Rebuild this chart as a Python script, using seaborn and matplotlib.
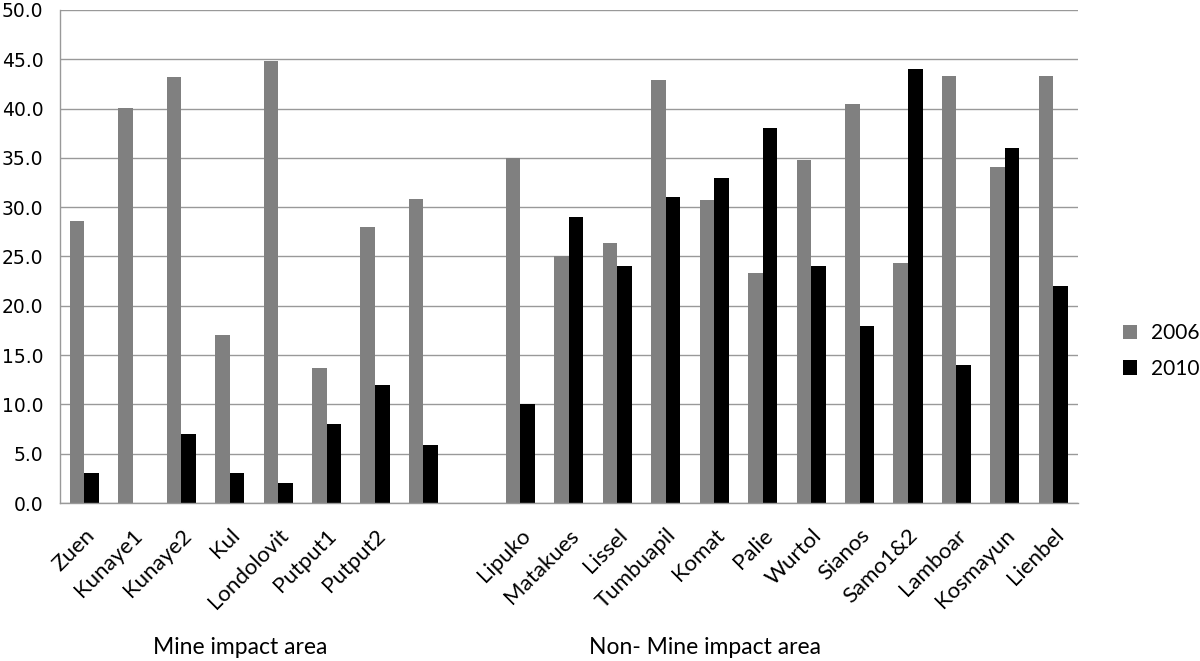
import numpy as np
import pandas as pd
import matplotlib
matplotlib.use("Agg")
import matplotlib.pyplot as plt
import seaborn as sns

categories = ["Zuen", "Kunaye1", "Kunaye2", "Kul", "Londolovit", "Putput1", "Putput2",
              "blank_a", "blank_b",
              "Lipuko", "Matakues", "Lissel", "Tumbuapil", "Komat", "Palie", "Wurtol",
              "Sianos", "Samo1&2", "Lamboar", "Kosmayun", "Lienbel"]
tick_labels = ["Zuen", "Kunaye1", "Kunaye2", "Kul", "Londolovit", "Putput1", "Putput2",
               "", "",
               "Lipuko", "Matakues", "Lissel", "Tumbuapil", "Komat", "Palie", "Wurtol",
               "Sianos", "Samo1&2", "Lamboar", "Kosmayun", "Lienbel"]
values_2006 = [28.6, 40.1, 43.2, 17.0, 44.8, 13.7, 28.0, 30.8, np.nan,
               35.0, 25.0, 26.4, 42.9, 30.7, 23.3, 34.8, 40.5, 24.3, 43.3, 34.1, 43.3]
values_2010 = [3.0, np.nan, 7.0, 3.0, 2.0, 8.0, 12.0, 5.9, np.nan,
               10.0, 29.0, 24.0, 31.0, 33.0, 38.0, 24.0, 18.0, 44.0, 14.0, 36.0, 22.0]
series = ["2006", "2010"]
yticks = [0, 5, 10, 15, 20, 25, 30, 35, 40, 45, 50]
group_labels = ["Mine impact area", "Non- Mine impact area"]

df = pd.DataFrame({
    "site": categories * 2,
    "year": [series[0]] * len(categories) + [series[1]] * len(categories),
    "value": values_2006 + values_2010,
})

sns.set_style("white")
plt.rcParams["font.family"] = ["DejaVu Sans"]
plt.rcParams["text.color"] = "black"

fig = plt.figure(figsize=(12, 6.61), dpi=100)
ax = fig.add_axes([0.05, 0.239, 0.848, 0.746])

sns.barplot(data=df.dropna(), x="site", y="value", hue="year", order=categories,
            hue_order=series, palette={"2006": "#808080", "2010": "#000000"},
            width=0.6, errorbar=None, ax=ax, legend=True, saturation=1,
            linewidth=0, edgecolor="none")

ax.set_xlim(-0.5, len(categories) - 0.5)
ax.set_ylim(0, 50)
ax.set_yticks(yticks)
ax.set_yticklabels([f"{v:.1f}" for v in yticks], fontsize=13.5, color="black")
ax.yaxis.grid(True, color="#999999", linewidth=1.0)
ax.set_axisbelow(True)

ax.set_xticks(range(len(categories)))
ax.set_xticklabels(tick_labels, rotation=45, ha="right", rotation_mode="anchor",
                   fontsize=16, color="black", family=["Lato", "DejaVu Sans"])
ax.set_xticks(np.arange(-0.5, len(categories), 1.0), minor=True)
ax.tick_params(axis="x", which="major", length=0, pad=16)
ax.tick_params(axis="x", which="minor", length=7, color="#999999", width=1)
ax.tick_params(axis="y", length=8, color="#999999", width=1, pad=4)

ax.set_xlabel("")
ax.set_ylabel("")
for s in ["top", "right"]:
    ax.spines[s].set_visible(False)
for s in ["left", "bottom"]:
    ax.spines[s].set_color("#999999")
    ax.spines[s].set_linewidth(1.0)

handles, labels = ax.get_legend_handles_labels()
ax.get_legend().remove()
fig.legend(handles, labels, loc="center left", bbox_to_anchor=(0.920, 0.469),
           frameon=False, prop={"family": ["Lato", "DejaVu Sans"], "size": 15},
           handlelength=0.7, handleheight=0.7, handletextpad=0.65, labelspacing=0.73)

for x_px, label in zip([240, 705], group_labels):
    fig.text(x_px / 1200, 1 - 648 / 661, label, ha="center", va="center",
             fontsize=16.5, color="black", family=["Lato", "DejaVu Sans"])

fig.savefig("out.png", dpi=100)
